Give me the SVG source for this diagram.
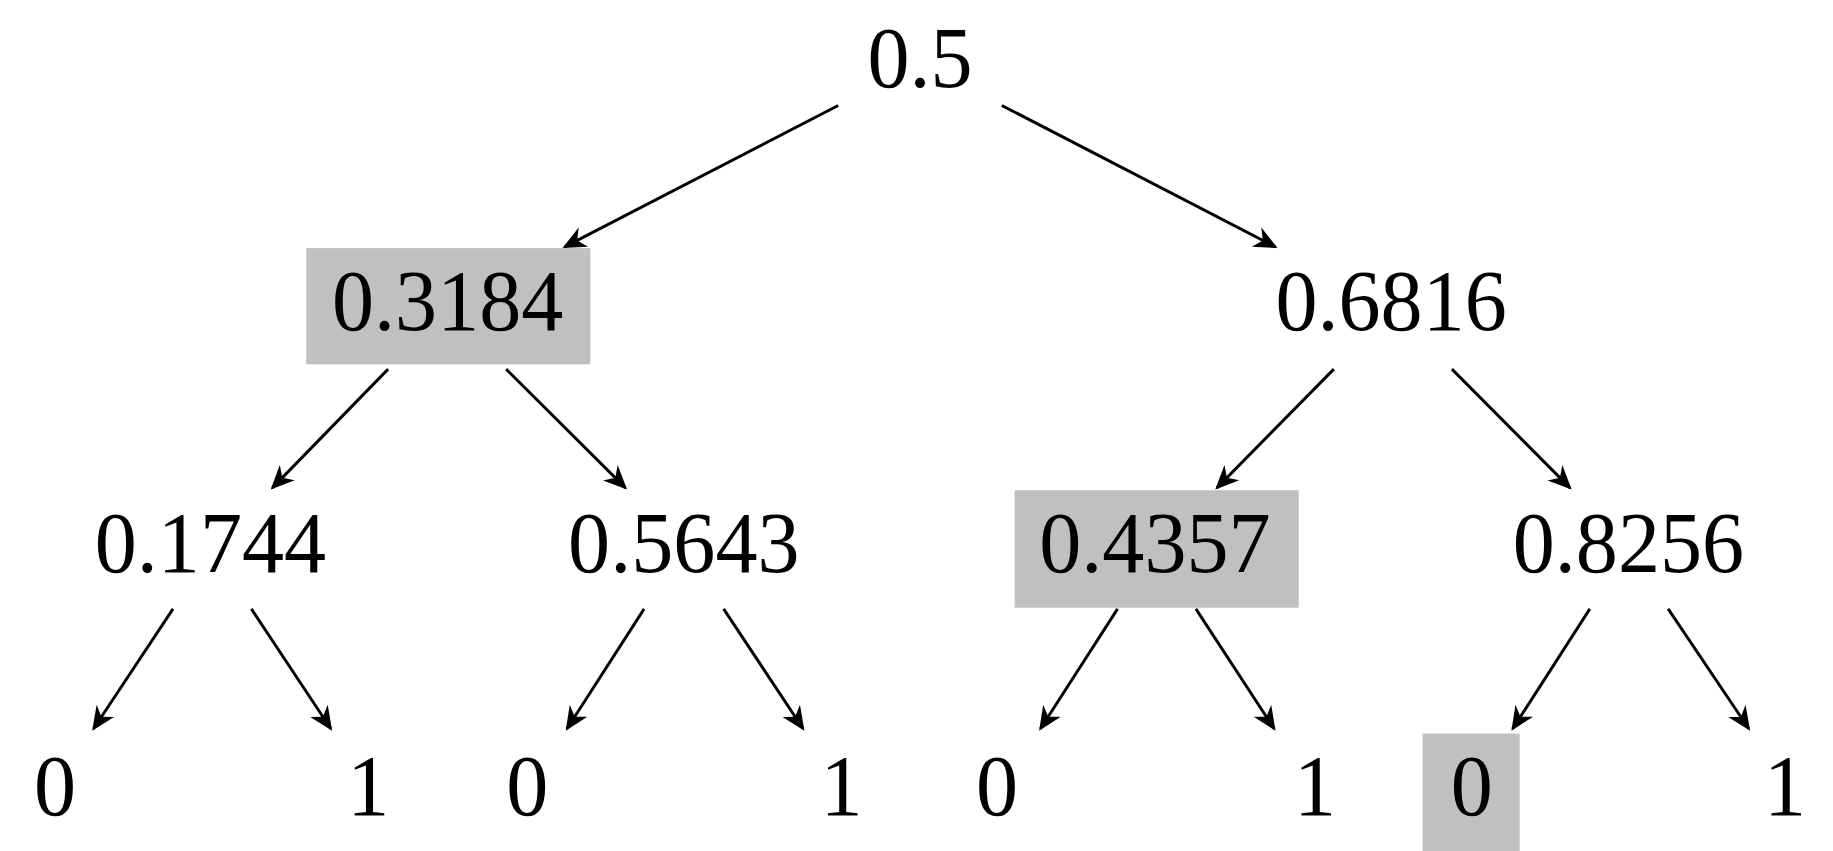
<svg xmlns="http://www.w3.org/2000/svg" width="1833" height="851" viewBox="0 0 1833 851">
<style>
text{font-family:"Liberation Serif","DejaVu Serif",serif;font-size:72px;text-anchor:middle;fill:#000}
.hl{fill:#c0c0c0}
</style>
<defs><marker id="ah2" viewBox="0 0 10 10" refX="9" refY="5" markerWidth="20" markerHeight="20" markerUnits="userSpaceOnUse" orient="auto"><path d="M0,0.5 L10,5 L0,9.5 L3,5 Z" fill="#000"/></marker></defs>
<rect width="1833" height="851" fill="#fff"/>
<g transform="scale(1.169,1.1986)">
<g id="connectors" stroke="#000" stroke-width="2.5" marker-end="url(#ah2)">
<line x1="717" y1="88" x2="483" y2="206"/>
<line x1="857" y1="88" x2="1091" y2="206"/>
<line x1="332" y1="308" x2="233" y2="407"/>
<line x1="433" y1="308" x2="535" y2="407"/>
<line x1="1141" y1="308" x2="1041" y2="407"/>
<line x1="1242" y1="308" x2="1343" y2="407"/>
<line x1="148" y1="508" x2="80" y2="608"/>
<line x1="215" y1="508" x2="283" y2="608"/>
<line x1="551" y1="508" x2="485" y2="608"/>
<line x1="619" y1="508" x2="687" y2="608"/>
<line x1="956" y1="508" x2="890" y2="608"/>
<line x1="1023" y1="508" x2="1090" y2="608"/>
<line x1="1360" y1="508" x2="1294" y2="608"/>
<line x1="1427" y1="508" x2="1496" y2="608"/>
</g>
<g id="n0"><text x="787" y="73">0.5</text></g>
<g id="n1"><rect class="hl" x="262" y="207" width="243" height="97"/><text x="383" y="275">0.3184</text></g>
<g id="n2"><text x="1190" y="275">0.6816</text></g>
<g id="n3"><text x="180" y="477">0.1744</text></g>
<g id="n4"><text x="585" y="477">0.5643</text></g>
<g id="n5"><rect class="hl" x="868" y="409" width="243" height="98"/><text x="988" y="477">0.4357</text></g>
<g id="n6"><text x="1393" y="477">0.8256</text></g>
<g id="l1"><text x="47" y="680">0</text></g>
<g id="l2"><text x="315" y="680">1</text></g>
<g id="l3"><text x="451" y="680">0</text></g>
<g id="l4"><text x="720" y="680">1</text></g>
<g id="l5"><text x="853" y="680">0</text></g>
<g id="l6"><text x="1125" y="680">1</text></g>
<g id="l7"><rect class="hl" x="1217" y="612" width="83" height="98"/><text x="1259" y="680">0</text></g>
<g id="l8"><text x="1527" y="680">1</text></g>
</g>
</svg>
